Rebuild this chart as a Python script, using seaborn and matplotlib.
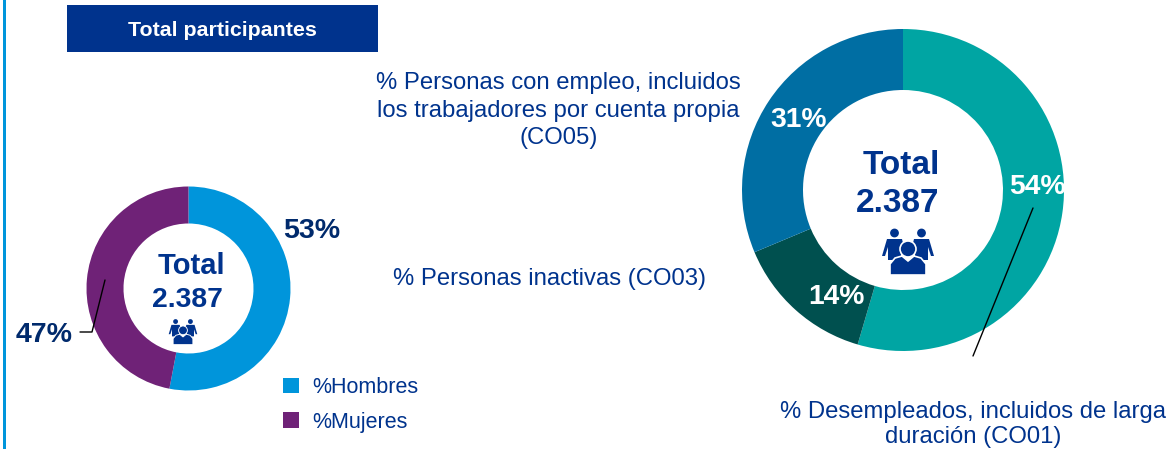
import matplotlib
matplotlib.use("Agg")
import matplotlib.pyplot as plt
import seaborn as sns
from matplotlib.patches import Circle, Polygon, Rectangle

sns.set_theme(style="white")
plt.rcParams['font.family'] = ['Liberation Sans', 'DejaVu Sans']

# data
gender_labels = ["%Hombres", "%Mujeres"]
gender_values = [53, 47]
gender_colors = ["#0095DB", "#6F2277"]

status_labels = ["% Desempleados, incluidos de larga\nduración (CO01)",
                 "% Personas inactivas (CO03)",
                 "% Personas con empleo, incluidos\nlos trabajadores por cuenta propia\n(CO05)"]
status_values = [54, 14, 31]
status_colors = ["#00A5A3", "#00504F", "#006EA3"]

total_text = "Total\n2.387"
title = "Total participantes"

navy = "#00338D"
dark_navy = "#002A6C"
W, H = 1172, 449


def donut(cx, cy, r_out, r_in, values, colors):
    # axes box in pixels, pie fills it
    ax = fig.add_axes([(cx - r_out) / W, 1 - (cy + r_out) / H, 2 * r_out / W, 2 * r_out / H])
    wedges, _ = ax.pie(values, colors=colors, startangle=90, counterclock=False, radius=1,
                       wedgeprops=dict(width=1 - r_in / r_out, linewidth=0))
    ax.set_xlim(-1, 1)
    ax.set_ylim(-1, 1)
    ax.set_aspect("equal")
    ax.axis("off")
    return wedges


def people(ax, cx, cy, s):
    # little group icon, s=1 is the big one
    for sign in [-1, 1]:
        ax.add_patch(Circle((cx + sign * 13.5 * s, cy - 19 * s), 4.4 * s, color=navy, lw=0, zorder=5))
        pts = [(sign * 6, -13), (sign * 21, -13), (sign * 26, 4), (sign * 23, 4), (sign * 20, -5),
               (sign * 20, 8), (sign * 7, 8), (sign * 7, -5), (sign * 5, -9)]
        ax.add_patch(Polygon([(cx + a * s, cy + b * s) for a, b in pts], color=navy, lw=0, zorder=5))
    ax.add_patch(Circle((cx, cy - 3 * s), 8 * s, fc=navy, ec="white", lw=1.2 * s, zorder=6))
    pts = [(-18, 23), (-18, 12), (-13, 6), (-6, 4), (0, 9), (6, 4), (13, 6), (18, 12), (18, 23)]
    ax.add_patch(Polygon([(cx + a * s, cy + b * s) for a, b in pts], fc=navy, ec="white", lw=1.2 * s, zorder=6))


fig = plt.figure(figsize=(W / 100, H / 100), dpi=100)

hombres_wedges = donut(188.5, 288.5, 102, 65, gender_values, gender_colors)
donut(903, 190, 161, 100, status_values, status_colors)

# overlay in image pixels
ov = fig.add_axes([0, 0, 1, 1])
ov.set_xlim(0, W)
ov.set_ylim(H, 0)
ov.axis("off")
ov.patch.set_alpha(0)

ov.add_patch(Rectangle((3, 0), 2.5, H, color="#0095DB", lw=0))
ov.add_patch(Rectangle((67, 5), 311, 47, color=navy, lw=0))
ov.text(222.5, 30.5, title, color="white", fontsize=15.4, fontweight="bold", ha="center", va="center")

# left donut texts
ov.text(191, 266, total_text.split("\n")[0], color=navy, fontsize=21, fontweight="bold", ha="center", va="center")
ov.text(187, 300, total_text.split("\n")[1], color=navy, fontsize=20.3, fontweight="bold", ha="center", va="center")
people(ov, 183, 332, 0.55)
ov.text(312, 230.5, f"{gender_values[0]}%", color=dark_navy, fontsize=20.5, fontweight="bold", ha="center", va="center")
ov.text(44, 334.5, f"{gender_values[1]}%", color=dark_navy, fontsize=20.5, fontweight="bold", ha="center", va="center")
ov.plot([105, 92, 80], [280, 332, 332], color="black", lw=1)

# right donut texts
ov.text(901.5, 165, total_text.split("\n")[0], color=navy, fontsize=24, fontweight="bold", ha="center", va="center")
ov.text(897.5, 204, total_text.split("\n")[1], color=navy, fontsize=24, fontweight="bold", ha="center", va="center")
people(ov, 908, 252, 1)
ov.text(1037, 187, f"{status_values[0]}%", color="white", fontsize=20.3, fontweight="bold", ha="center", va="center")
ov.text(836.5, 297, f"{status_values[1]}%", color="white", fontsize=20.3, fontweight="bold", ha="center", va="center")
ov.text(798.5, 120, f"{status_values[2]}%", color="white", fontsize=20.3, fontweight="bold", ha="center", va="center")
ov.plot([1033, 973], [208, 356], color="black", lw=1)

# category labels
ov.text(973.5, 424.5, status_labels[0], color=navy, fontsize=17.2, ha="center", va="center", linespacing=1.16)
ov.text(549.5, 279, status_labels[1], color=navy, fontsize=17.2, ha="center", va="center")
ov.text(558.5, 110.5, status_labels[2], color=navy, fontsize=17.2, ha="center", va="center", linespacing=1.34)

ov.legend(hombres_wedges, gender_labels, loc="upper left", bbox_to_anchor=(283 / W, 1 - 377 / H),
          bbox_transform=fig.transFigure, frameon=False, fontsize=15.5, labelcolor=navy,
          handlelength=0.76, handleheight=0.76, handletextpad=0.6, labelspacing=0.63,
          borderpad=0, borderaxespad=0)

fig.savefig("out.png", dpi=100)
